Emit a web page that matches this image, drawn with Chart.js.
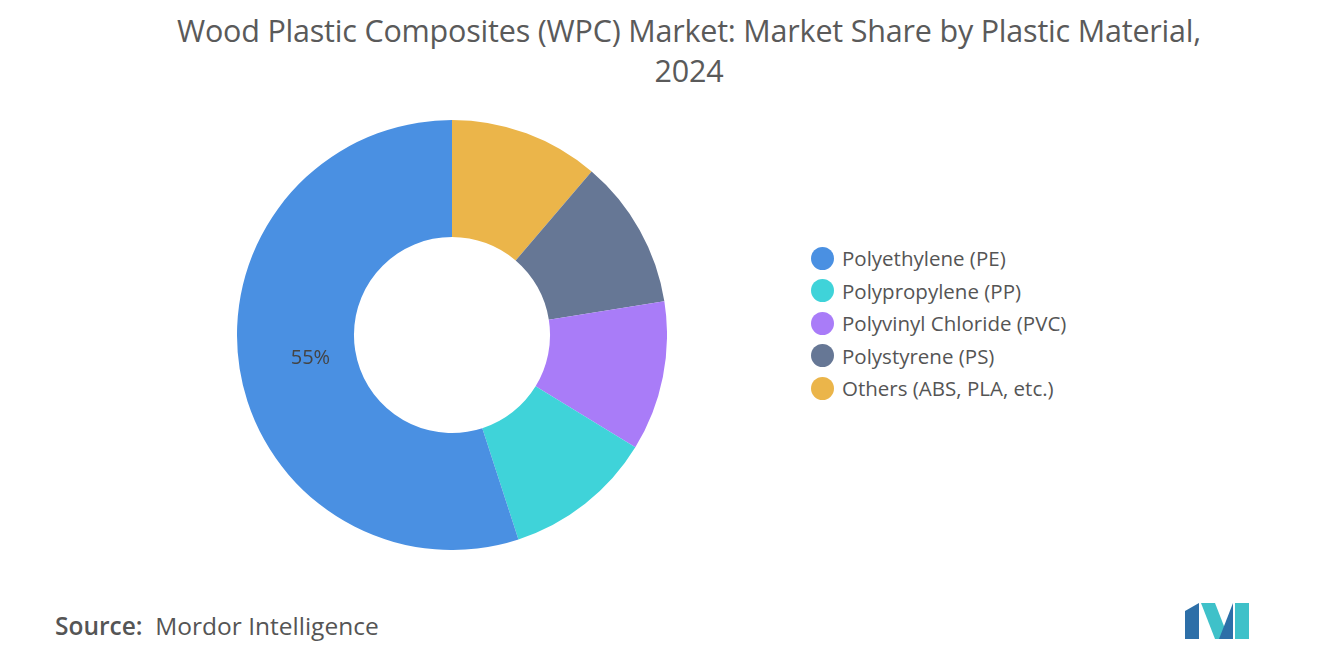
<!DOCTYPE html>
<html>
<head>
<meta charset="utf-8">
<script src="https://cdn.jsdelivr.net/npm/chart.js@4/dist/chart.umd.min.js"></script>
<style>
  body { margin: 0; width: 1320px; height: 665px; background: #fff; font-family: "Open Sans", sans-serif; position: relative; overflow: hidden; }
  #title { position: absolute; top: 10px; left: 0; width: 1378px; text-align: center; font-size: 30.5px; color: #5a5a5a; line-height: 40px; letter-spacing: -0.2px; }
  #wrap { position: absolute; left: 237px; top: 120px; width: 430px; height: 430px; }
  #legend { position: absolute; left: 811px; top: 242px; }
  .item { display: flex; align-items: center; height: 32.5px; font-size: 20.5px; color: #555; }
  .dot { width: 23px; height: 23px; border-radius: 50%; margin-right: 8px; }
  #source { position: absolute; left: 55px; top: 609px; font-size: 24.5px; color: #555; }
  #source b { font-weight: 600; }
</style>
</head>
<body>
<div id="title">Wood Plastic Composites (WPC) Market: Market Share by Plastic Material,<br>2024</div>
<div id="wrap"><canvas id="chart"></canvas></div>
<div id="legend"></div>
<div id="source"><b>Source:</b>&nbsp; Mordor Intelligence</div>
<svg style="position:absolute;left:1185px;top:603px" width="64" height="36" viewBox="0 0 64 36">
  <polygon points="0,36 0,8 14,0 14,36" fill="#2d6fa8"/>
  <polygon points="16,0 30,0 44,36 30,36" fill="#3fc1c9"/>
  <polygon points="34,36 48,0 48,36" fill="#2d6fa8"/>
  <polygon points="50,0 64,0 64,36 50,36" fill="#3fc1c9"/>
</svg>
<script>
const categories = ["Polyethylene (PE)", "Polypropylene (PP)", "Polyvinyl Chloride (PVC)", "Polystyrene (PS)", "Others (ABS, PLA, etc.)"];
const shares = [55, 11.25, 11.25, 11.25, 11.25];
const colors = ["#4a90e2", "#3fd3d9", "#a97cf8", "#667795", "#ebb54a"];
const shownLabels = ["55%", "", "", "", ""];

const legend = document.getElementById("legend");
categories.forEach((c, i) => {
  const d = document.createElement("div");
  d.className = "item";
  d.innerHTML = `<span class="dot" style="background:${colors[i]}"></span>${c}`;
  legend.appendChild(d);
});

// chart draws clockwise, reference runs counter-clockwise, so feed it reversed
const rev = (a) => a.slice().reverse();

const labelPlugin = {
  id: "sliceLabels",
  afterDatasetsDraw(chart) {
    const ctx = chart.ctx;
    const meta = chart.getDatasetMeta(0);
    const labels = rev(shownLabels);
    meta.data.forEach((arc, i) => {
      if (!labels[i]) return;
      const p = arc.tooltipPosition();
      ctx.save();
      ctx.font = "20px 'Open Sans', sans-serif";
      ctx.fillStyle = "#444";
      ctx.textAlign = "center";
      ctx.textBaseline = "middle";
      ctx.fillText(labels[i], p.x + 13, p.y - 1);
      ctx.restore();
    });
  },
};

new Chart(document.getElementById("chart"), {
  type: "doughnut",
  data: {
    labels: rev(categories),
    datasets: [{ data: rev(shares), backgroundColor: rev(colors), borderWidth: 0 }],
  },
  options: {
    responsive: true,
    maintainAspectRatio: false,
    animation: false,
    cutout: "45.6%",
    plugins: { legend: { display: false }, tooltip: { enabled: false } },
  },
  plugins: [labelPlugin],
});
</script>
</body>
</html>
